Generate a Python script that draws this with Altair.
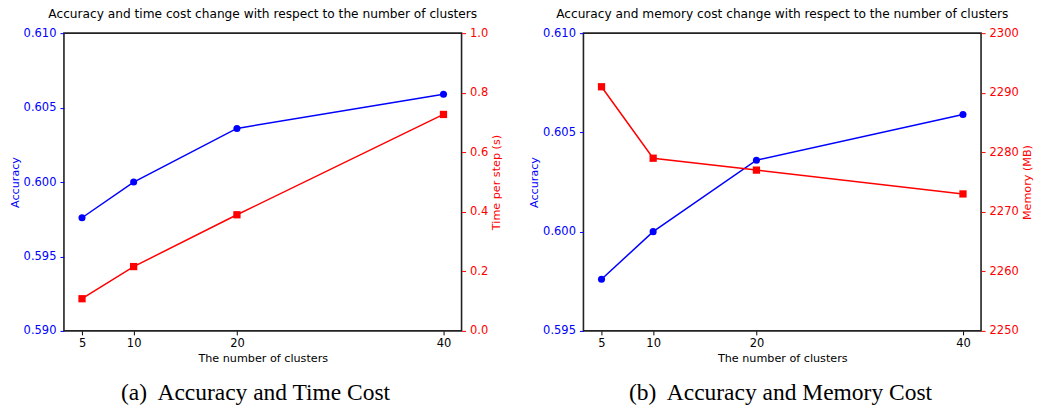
import altair as alt
import pandas as pd

clusters = [5, 10, 20, 40]
accuracy = [0.5976, 0.6000, 0.6036, 0.6059]
time_per_step = [0.108, 0.216, 0.390, 0.727]
memory_mb = [2291.0, 2279.0, 2277.0, 2273.0]

acc_ticks_a = [0.590, 0.595, 0.600, 0.605, 0.610]
time_ticks = [0.0, 0.2, 0.4, 0.6, 0.8, 1.0]
acc_ticks_b = [0.595, 0.600, 0.605, 0.610]
mem_ticks = [2250, 2260, 2270, 2280, 2290, 2300]

df = pd.DataFrame({"clusters": clusters, "accuracy": accuracy,
                   "time": time_per_step, "memory": memory_mb})

BLUE = "#0000ff"
RED = "#ff0000"
W, H = 398, 298
FONT = "DejaVu Sans"
SERIF = "Liberation Serif"
LBL = 11.5
TTL = 11.2


def xenc():
    return alt.X("clusters:Q",
                 scale=alt.Scale(domain=[3.25, 41.75], nice=False, zero=False),
                 axis=alt.Axis(values=clusters, title="The number of clusters", grid=False,
                               domain=False, tickColor="black", labelColor="black",
                               tickSize=4, labelFontSize=LBL, titleFontSize=TTL,
                               titleFontWeight="normal", labelPadding=3, titlePadding=3,
                               labelFont=FONT, titleFont=FONT, titleColor="black"))


def yaxis(orient, color, ticks, fmt, title):
    return alt.Axis(orient=orient, values=ticks, format=fmt, title=title, grid=False,
                    domain=False, tickColor=color, labelColor=color, titleColor=color,
                    tickSize=4, labelFontSize=LBL, titleFontSize=TTL,
                    titleFontWeight="normal", labelPadding=4, titlePadding=3,
                    labelFont=FONT, titleFont=FONT,
                    titleAngle=270,
                    titleBaseline="top" if orient == "right" else "bottom")


def panel(title, caption, acc_dom, acc_ticks, rfield, rdom, rticks, rtitle, rfmt):
    base = alt.Chart(df)
    yl = alt.Y("accuracy:Q", scale=alt.Scale(domain=acc_dom, nice=False, zero=False),
               axis=yaxis("left", BLUE, acc_ticks, ".3f", "Accuracy"))
    yr = alt.Y(f"{rfield}:Q", scale=alt.Scale(domain=rdom, nice=False, zero=False),
               axis=yaxis("right", RED, rticks, rfmt, rtitle))
    left = alt.layer(
        base.mark_line(color=BLUE, strokeWidth=1.5).encode(x=xenc(), y=yl),
        base.mark_point(shape="circle", filled=True, color=BLUE, size=50, opacity=1).encode(
            x=xenc(), y=yl),
    )
    right = alt.layer(
        base.mark_line(color=RED, strokeWidth=1.5).encode(x=xenc(), y=yr),
        base.mark_point(shape="square", filled=True, color=RED, size=53, opacity=1).encode(
            x=xenc(), y=yr),
    )
    layered = alt.layer(left, right).resolve_scale(y="independent").properties(
        width=W, height=H,
        title=alt.TitleParams(title, font=FONT, fontSize=12.2, fontWeight="normal",
                              color="black", anchor="middle", frame="group", offset=7))
    return alt.vconcat(layered).properties(
        title=alt.TitleParams(caption, orient="bottom", font=SERIF, fontSize=23.5,
                              fontWeight="normal", color="black", anchor="middle", offset=17))


pa = panel("Accuracy and time cost change with respect to the number of clusters",
           "(a)\u00a0 Accuracy and Time Cost", [0.590, 0.610], acc_ticks_a,
           "time", [0.0, 1.0], time_ticks, "Time per step (s)", ".1f")
pb = panel("Accuracy and memory cost change with respect to the number of clusters",
           "(b)\u00a0 Accuracy and Memory Cost", [0.595, 0.610], acc_ticks_b,
           "memory", [2250, 2300], mem_ticks, "Memory (MB)", "d")

chart = alt.hconcat(pa, pb, spacing=24).properties(
    padding={"left": 0, "top": -1, "right": 0, "bottom": 0},
    background="white").configure_view(stroke="#222222", strokeWidth=1.6)

chart.save("out.html", embed_options={"renderer": "svg", "actions": False})
